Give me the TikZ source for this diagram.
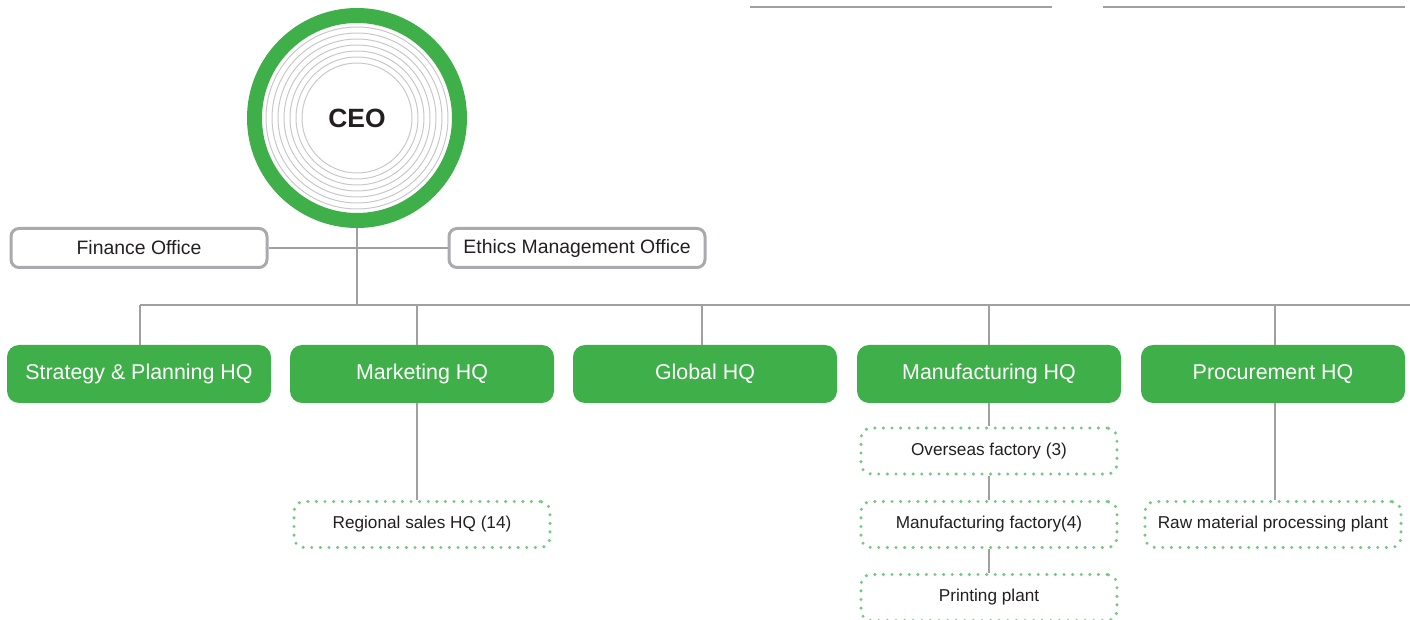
\documentclass[tikz,border=0pt]{standalone}
\usepackage{fontspec}
\setmainfont{Liberation Sans}

\definecolor{hqgreen}{RGB}{63,175,74}
\definecolor{dotgreen}{RGB}{118,199,132}
\definecolor{linegray}{RGB}{160,160,160}
\definecolor{boxgray}{RGB}{168,170,173}
\definecolor{ringgray}{RGB}{200,200,200}
\definecolor{txt}{RGB}{35,31,32}

\tikzset{
	office/.style={draw=boxgray, line width=1.5pt, rounded corners=4pt, minimum width=128pt, minimum height=19.5pt, inner sep=0pt, text=txt, font=\fontsize{9.7}{11}\selectfont},
	hq/.style={fill=hqgreen, rounded corners=6pt, minimum width=132pt, minimum height=29pt, inner sep=0pt, text=white, font=\fontsize{10.7}{12}\selectfont},
	plant/.style={draw=dotgreen, line width=1.7pt, line cap=round, dash pattern=on 0pt off 4.3pt, rounded corners=5pt, minimum width=128pt, minimum height=23pt, inner sep=0pt, text=txt, font=\fontsize{8.6}{10}\selectfont},
	link/.style={draw=linegray, line width=0.6pt}
}

\begin{document}
\begin{tikzpicture}[x=0.5pt, y=-0.5pt]
	\useasboundingbox (0,0) rectangle (1410,620);

	\draw[link, line width=0.75pt] (750,7) -- (1052,7);
	\draw[link, line width=0.75pt] (1103,7) -- (1405,7);

	% CEO
	\node[circle, draw=hqgreen, line width=7.5pt, minimum size=102.5pt, inner sep=0pt, text=txt, font=\bfseries\fontsize{13.2}{15}\selectfont] (ceo) at (357,118) {CEO};
	\foreach \r in {27.5,30.5,33.5,36.5,39.5,42.5,45.5}
		\draw[ringgray, line width=0.5pt] (ceo.center) circle (\r pt);

	\node[office] (fin) at (139,248) {Finance Office};
	\node[office] (eth) at (577,248) {Ethics Management Office};
	\draw[link] (fin) -- (eth);

	\coordinate (busl) at (140,305);
	\coordinate (busr) at (1410,305);
	\draw[link] (busl) -- (busr);
	\draw[link] (ceo.south) -- (ceo.south |- busl);

	\node[hq] (strat) at (139,374) {Strategy \& Planning HQ};
	\node[hq] (mkt) at (422,374) {Marketing HQ};
	\node[hq] (glob) at (705,374) {Global HQ};
	\node[hq] (manu) at (989,374) {Manufacturing HQ};
	\node[hq] (proc) at (1273,374) {Procurement HQ};
	\foreach \n/\dx in {strat/0.5,mkt/-2.5,glob/-1.5,manu/0,proc/1}
		\draw[link] ([xshift=\dx pt]\n.north) -- ([xshift=\dx pt]\n.north |- busl);

	\node[plant] (regional) at (422,524.5) {Regional sales HQ (14)};
	\node[plant] (overseas) at (989,451) {Overseas factory (3)};
	\node[plant] (factory) at (989,524.5) {Manufacturing factory(4)};
	\node[plant] (printing) at (989,597.5) {Printing plant};
	\node[plant] (raw) at (1273,524.5) {Raw material processing plant};

	\draw[link] ([xshift=-2.5pt]mkt.south) -- ([xshift=-2.5pt]mkt.south |- regional.north);
	\draw[link] (manu) -- (overseas);
	\draw[link] (overseas) -- (factory);
	\draw[link] (factory) -- (printing);
	\draw[link] ([xshift=1pt]proc.south) -- ([xshift=1pt]proc.south |- raw.north);

\end{tikzpicture}
\end{document}
